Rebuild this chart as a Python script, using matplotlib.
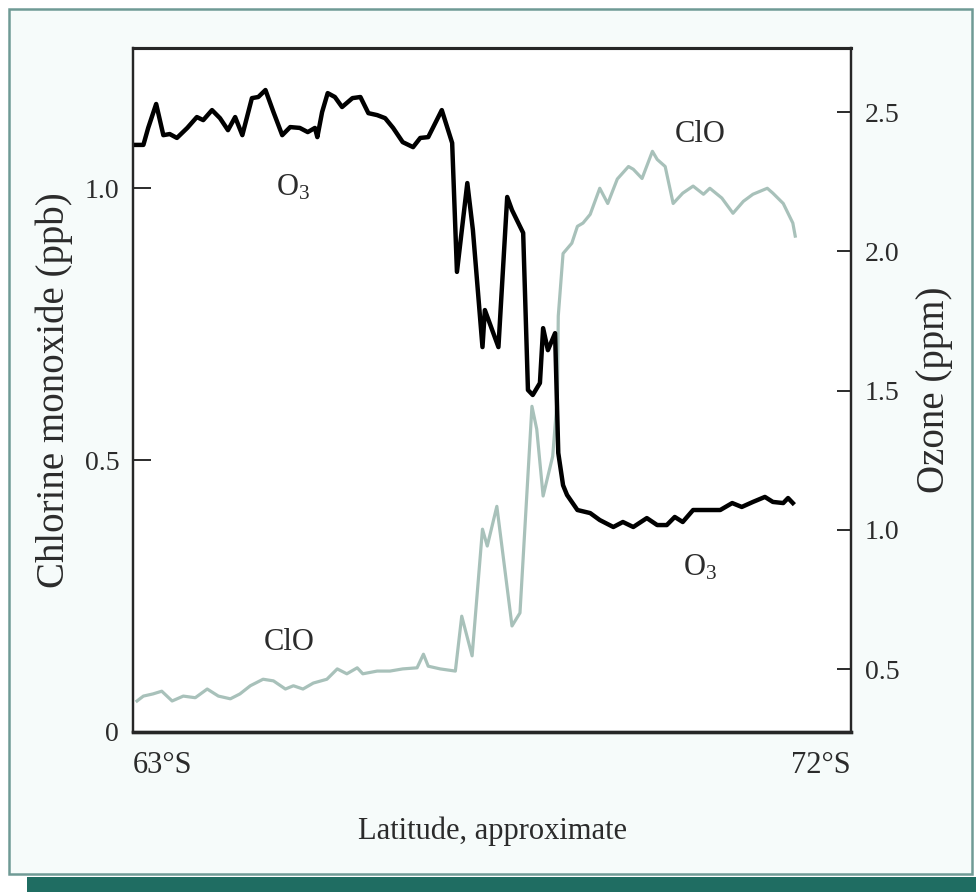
import matplotlib.pyplot as plt
from matplotlib.patches import Rectangle

plt.rcParams['font.family'] = ['Liberation Serif', 'DejaVu Serif']
plt.rcParams['mathtext.default'] = 'regular'

# ozone along the flight track (ppm, right axis)
o3_lat = [63.03, 63.13, 63.19, 63.29, 63.38, 63.46, 63.55, 63.68, 63.80, 63.88,
          63.99, 64.09, 64.19, 64.28, 64.37, 64.49, 64.57, 64.66, 64.76, 64.87,
          64.97, 65.09, 65.19, 65.28, 65.31, 65.37, 65.44, 65.53, 65.62, 65.75,
          65.85, 65.95, 66.06, 66.16, 66.26, 66.38, 66.51, 66.60, 66.70, 66.87,
          67.00, 67.06, 67.19, 67.26, 67.38, 67.41, 67.58, 67.69, 67.75, 67.89,
          67.95, 68.01, 68.10, 68.14, 68.20, 68.29, 68.33, 68.39, 68.44, 68.57,
          68.73, 68.85, 69.02, 69.14, 69.27, 69.44, 69.57, 69.69, 69.79, 69.89,
          70.02, 70.20, 70.36, 70.51, 70.63, 70.77, 70.92, 71.02, 71.15, 71.21,
          71.27]
o3_ppm = [2.382, 2.382, 2.443, 2.529, 2.417, 2.421, 2.407, 2.443, 2.482, 2.471,
          2.507, 2.478, 2.435, 2.482, 2.417, 2.550, 2.554, 2.579, 2.500, 2.417,
          2.446, 2.443, 2.428, 2.443, 2.410, 2.500, 2.568, 2.554, 2.518, 2.550,
          2.554, 2.496, 2.489, 2.478, 2.443, 2.392, 2.374, 2.407, 2.410, 2.507,
          2.389, 1.926, 2.245, 2.076, 1.656, 1.789, 1.656, 2.195, 2.148, 2.066,
          1.502, 1.484, 1.527, 1.724, 1.645, 1.706, 1.276, 1.160, 1.125, 1.071,
          1.060, 1.035, 1.010, 1.028, 1.010, 1.042, 1.017, 1.017, 1.046, 1.028,
          1.071, 1.071, 1.071, 1.096, 1.082, 1.100, 1.118, 1.100, 1.096, 1.114,
          1.096]

# chlorine monoxide (ppb, left axis)
clo_lat = [63.05, 63.13, 63.25, 63.36, 63.49, 63.63, 63.78, 63.93, 64.07, 64.22,
           64.34, 64.47, 64.63, 64.76, 64.91, 65.01, 65.13, 65.26, 65.43, 65.56,
           65.68, 65.81, 65.88, 66.06, 66.22, 66.38, 66.56, 66.64, 66.70, 66.85,
           67.04, 67.12, 67.25, 67.38, 67.44, 67.56, 67.75, 67.85, 68.00, 68.06,
           68.14, 68.26, 68.32, 68.33, 68.39, 68.50, 68.57, 68.64, 68.73, 68.85,
           68.95, 69.07, 69.21, 69.27, 69.38, 69.51, 69.57, 69.67, 69.77, 69.89,
           70.02, 70.15, 70.23, 70.38, 70.52, 70.65, 70.77, 70.95, 71.02, 71.15,
           71.27, 71.30]
clo_ppb = [0.057, 0.066, 0.070, 0.075, 0.057, 0.066, 0.063, 0.079, 0.066, 0.061,
           0.070, 0.085, 0.097, 0.094, 0.079, 0.085, 0.079, 0.090, 0.097, 0.116,
           0.107, 0.118, 0.107, 0.112, 0.112, 0.116, 0.118, 0.143, 0.121, 0.116,
           0.112, 0.213, 0.140, 0.373, 0.342, 0.415, 0.195, 0.219, 0.599, 0.557,
           0.434, 0.507, 0.618, 0.765, 0.880, 0.899, 0.930, 0.936, 0.952, 1.000,
           0.972, 1.017, 1.040, 1.035, 1.018, 1.068, 1.053, 1.040, 0.972, 0.991,
           1.004, 0.989, 1.000, 0.982, 0.954, 0.976, 0.989, 1.000, 0.991, 0.972,
           0.936, 0.912]

clo_ticks = [0, 0.5, 1.0]
clo_ticklabels = ['0', '0.5', '1.0']
o3_ticks = [0.5, 1.0, 1.5, 2.0, 2.5]
lat_ticks = [63, 72]
lat_ticklabels = ['63°S', '72°S']

txt = '#2b2b2b'

fig = plt.figure(figsize=(9.76, 8.92), dpi=100, facecolor='white')

# page frame and the band under it (kept behind the axes)
fig.patches.append(Rectangle((0.0092, 0.0202), 0.9867, 0.9697, transform=fig.transFigure,
                             facecolor='#f6fbfa', edgecolor='#6f9a95', lw=1.8, zorder=-5))
fig.patches.append(Rectangle((0.0277, 0.0), 0.9723, 0.0168, transform=fig.transFigure,
                             facecolor='#1f6d62', edgecolor='none', zorder=-5))

ax = fig.add_axes([0.1363, 0.1794, 0.7357, 0.7668])
ax.set_facecolor('white')
ax.plot(clo_lat, clo_ppb, color='#a8c1ba', lw=2.3, solid_joinstyle='round')
ax.set_xlim(63, 72)
ax.set_ylim(0, 1.258)
ax.set_yticks(clo_ticks)
ax.set_yticklabels(clo_ticklabels)
ax.set_xticks(lat_ticks)
ax.set_xticklabels(lat_ticklabels)
for lab, ha in zip(ax.get_xticklabels(), ['left', 'right']):
    lab.set_horizontalalignment(ha)
ax.tick_params(axis='y', direction='in', length=13, width=1.4, pad=10,
               labelsize=20, colors=txt)
ax.tick_params(axis='x', length=0, pad=14, labelsize=22, colors=txt)
ax.set_ylabel('Chlorine monoxide (ppb)', fontsize=28, color=txt, labelpad=8)
ax.set_xlabel('Latitude, approximate', fontsize=22, color=txt, labelpad=26)
ax.text(64.955, 0.165, 'ClO', fontsize=22, color=txt, ha='center', va='center')
ax.text(70.107, 1.099, 'ClO', fontsize=22, color=txt, ha='center', va='center')

ax2 = ax.twinx()
ax2.plot(o3_lat, o3_ppm, color='black', lw=3.2, solid_joinstyle='round')
ax2.set_ylim(0.274, 2.73)
ax2.set_yticks(o3_ticks)
ax2.set_yticklabels([f'{v:.1f}' for v in o3_ticks])
ax2.tick_params(axis='y', direction='in', length=10, width=1.4, pad=10,
                labelsize=20, colors=txt)
ax2.set_ylabel('Ozone (ppm)', fontsize=28, color=txt, labelpad=12)
ax2.text(65.005, 2.227, 'O$_3$', fontsize=22, color=txt, ha='center', va='center')
ax2.text(70.107, 0.863, 'O$_3$', fontsize=22, color=txt, ha='center', va='center')

for a in (ax, ax2):
    a.spines['left'].set_linewidth(1.6)
    a.spines['right'].set_linewidth(1.6)
    a.spines['top'].set_linewidth(2.2)
    a.spines['bottom'].set_linewidth(2.4)
    for s in a.spines.values():
        s.set_color('#262626')

fig.savefig('out.png', dpi=100, facecolor=fig.get_facecolor())
